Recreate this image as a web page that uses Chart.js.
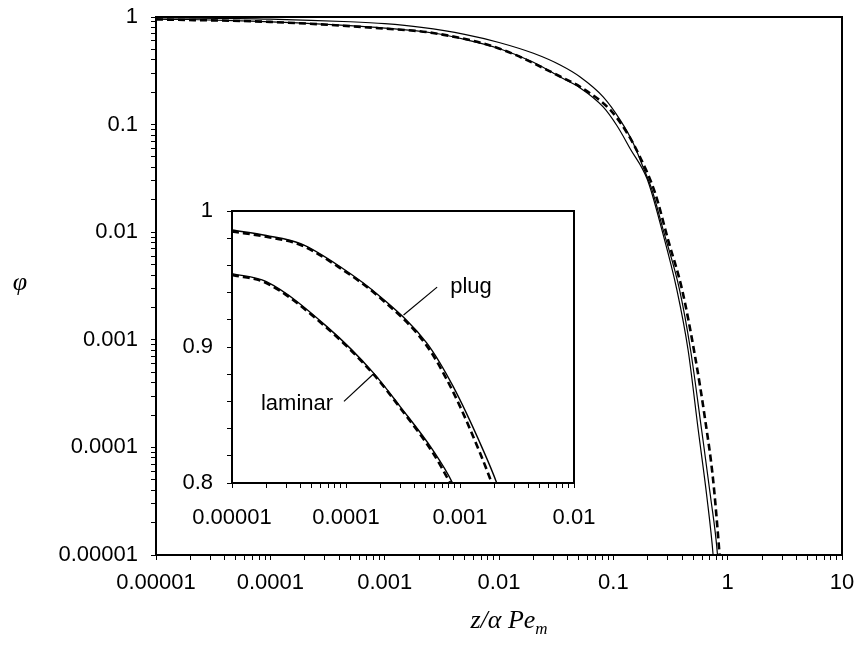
<!DOCTYPE html>
<html>
<head>
<meta charset="utf-8">
<script src="https://cdn.jsdelivr.net/npm/chart.js@4.4.0/dist/chart.umd.min.js"></script>
<style>
  body { margin: 0; background: #fff; }
  #wrap { position: relative; width: 861px; height: 665px; }
  #main { position: absolute; left: 0; top: 0; }
  #inset { position: absolute; left: 180px; top: 198px; }
</style>
</head>
<body>
<div id="wrap">
  <canvas id="main" width="861" height="665"></canvas>
  <canvas id="inset" width="420" height="337"></canvas>
</div>
<script>
// ---- main plot (log-log) ----
const main_x_ticks = [0.00001, 0.0001, 0.001, 0.01, 0.1, 1, 10]
const main_x_labels = ['0.00001', '0.0001', '0.001', '0.01', '0.1', '1', '10']
const main_y_ticks = [0.00001, 0.0001, 0.001, 0.01, 0.1, 1]
const main_y_labels = ['0.00001', '0.0001', '0.001', '0.01', '0.1', '1']

const plug_x = [0.00001, 0.0001, 0.0005, 0.001, 0.0021, 0.005, 0.01, 0.02, 0.0343, 0.0513, 0.0815, 0.115, 0.149, 0.182, 0.218, 0.273, 0.38, 0.474, 0.592, 0.709, 0.815, 0.84]
const plug_y = [0.986, 0.957, 0.903, 0.866, 0.80, 0.69, 0.58, 0.46, 0.358, 0.277, 0.181, 0.110, 0.0675, 0.0403, 0.0247, 0.0105, 0.0029, 0.0008, 0.000145, 0.0000346, 0.00001, 0.000006]

const laminar_x = [0.00001, 0.00002, 0.000068, 0.000174, 0.0003, 0.00058, 0.00085, 0.00265, 0.005, 0.01, 0.02, 0.0343, 0.0513, 0.0815, 0.108, 0.14, 0.198, 0.266, 0.36, 0.451, 0.553, 0.658, 0.746, 0.77]
const laminar_y = [0.954, 0.948, 0.915, 0.881, 0.856, 0.824, 0.80, 0.71, 0.62, 0.51, 0.38, 0.277, 0.219, 0.146, 0.097, 0.06, 0.031, 0.0105, 0.0029, 0.0008, 0.000145, 0.0000346, 0.00001, 0.000006]

const approx_x = [0.00001, 0.0001, 0.001, 0.00265, 0.01, 0.0343, 0.0513, 0.094, 0.132, 0.171, 0.232, 0.301, 0.40, 0.52, 0.636, 0.746, 0.85, 0.88]
const approx_y = [0.95, 0.90, 0.78, 0.71, 0.51, 0.28, 0.224, 0.137, 0.0836, 0.05, 0.0231, 0.0085, 0.0029, 0.00069, 0.00018, 0.00005, 0.00001, 0.000006]

// ---- inset (log x, linear y) ----
const inset_x_ticks = [0.00001, 0.0001, 0.001, 0.01]
const inset_x_labels = ['0.00001', '0.0001', '0.001', '0.01']
const inset_y_ticks = [0.8, 0.9, 1]
const inset_y_labels = ['0.8', '0.9', '1']

const inset_plug_x = [0.00001, 0.00002, 0.00004, 0.000089, 0.0002, 0.00051, 0.00087, 0.0016, 0.0021, 0.0023]
const inset_plug_y = [0.986, 0.982, 0.976, 0.959, 0.937, 0.903, 0.871, 0.824, 0.80, 0.79]
const inset_plug_dash_x = [0.00001, 0.00002, 0.00004, 0.000089, 0.0002, 0.00051, 0.00087, 0.0015, 0.0019, 0.0021]
const inset_plug_dash_y = [0.985, 0.981, 0.975, 0.958, 0.936, 0.901, 0.867, 0.822, 0.80, 0.79]

const inset_lam_x = [0.00001, 0.00002, 0.000068, 0.000174, 0.0003, 0.00058, 0.00086, 0.0009]
const inset_lam_y = [0.954, 0.948, 0.915, 0.881, 0.856, 0.824, 0.80, 0.796]
const inset_lam_dash_x = [0.00001, 0.00002, 0.000068, 0.000174, 0.0003, 0.00058, 0.00082, 0.00087]
const inset_lam_dash_y = [0.953, 0.947, 0.914, 0.880, 0.855, 0.822, 0.80, 0.796]

// curve labels with their leader lines
const note_text = ['plug', 'laminar']
const note_x = [0.00082, 0.000077]
const note_y = [0.944, 0.858]
const note_align = ['left', 'right']
const plug_lead_x = [0.00032, 0.00063]
const plug_lead_y = [0.9235, 0.944]
const lam_lead_x = [0.000096, 0.000173]
const lam_lead_y = [0.860, 0.880]

const tick_font = { family: '"Liberation Sans", Arial, sans-serif', size: 22 }

function zip(xs, ys){
  return xs.map((x, i) => ({ x: x, y: ys[i] }))
}

function log_minor(majors){
  const out = []
  for (let i = 0; i < majors.length - 1; i++){
    for (let k = 1; k < 10; k++) out.push(parseFloat((majors[i] * k).toPrecision(6)))
  }
  out.push(majors[majors.length - 1])
  return out
}

function lin_minor(majors, step){
  const out = []
  const n = Math.round((majors[majors.length - 1] - majors[0]) / step)
  for (let i = 0; i <= n; i++) out.push(parseFloat((majors[0] + i * step).toFixed(6)))
  return out
}

function label_for(v, ticks, labels){
  const i = ticks.findIndex(t => Math.abs(t - v) <= Math.abs(t) * 1e-6)
  return i >= 0 ? labels[i] : ''
}

// fixed box size, and no label overflow pushing the plot area around
function fixed_box(size, horizontal){
  return s => {
    if (horizontal) s.height = size
    else s.width = size
    s.paddingTop = 0
    s.paddingBottom = 0
    s.paddingLeft = 0
    s.paddingRight = 0
  }
}

const frame = {
  id: 'frame',
  afterDraw(chart){
    const a = chart.chartArea
    const ctx = chart.ctx
    ctx.save()
    ctx.strokeStyle = '#000'
    ctx.lineWidth = 2
    ctx.strokeRect(a.left, a.top, a.right - a.left, a.bottom - a.top)
    ctx.restore()
  }
}

const titles = {
  id: 'titles',
  afterDraw(chart){
    const ctx = chart.ctx
    ctx.save()
    ctx.fillStyle = '#000'
    ctx.textBaseline = 'alphabetic'
    ctx.font = 'italic 26px "Liberation Serif", serif'
    ctx.textAlign = 'center'
    ctx.fillText('φ', 20, 290)
    // x title with subscript
    const main = 'z/α Pe'
    ctx.font = 'italic 26px "Liberation Serif", serif'
    const w1 = ctx.measureText(main).width
    ctx.font = 'italic 17px "Liberation Serif", serif'
    const w2 = ctx.measureText('m').width
    const x0 = 509 - (w1 + w2) / 2
    ctx.textAlign = 'left'
    ctx.font = 'italic 26px "Liberation Serif", serif'
    ctx.fillText(main, x0, 628)
    ctx.font = 'italic 17px "Liberation Serif", serif'
    ctx.fillText('m', x0 + w1, 634)
    ctx.restore()
  }
}

const notes = {
  id: 'notes',
  afterDraw(chart){
    const ctx = chart.ctx
    const xs = chart.scales.x, ys = chart.scales.y
    ctx.save()
    ctx.fillStyle = '#000'
    ctx.font = '22px "Liberation Sans", Arial, sans-serif'
    ctx.textBaseline = 'middle'
    note_text.forEach((t, i) => {
      ctx.textAlign = note_align[i]
      ctx.fillText(t, xs.getPixelForValue(note_x[i]), ys.getPixelForValue(note_y[i]))
    })
    ctx.restore()
  }
}

const white_bg = {
  id: 'white_bg',
  beforeDraw(chart){
    const ctx = chart.ctx
    ctx.save()
    ctx.fillStyle = '#fff'
    ctx.fillRect(0, 0, chart.width, chart.height)
    ctx.restore()
  }
}

function solid(data, width){
  return { data: data, borderColor: '#000', borderWidth: width, pointRadius: 0, fill: false, cubicInterpolationMode: 'monotone' }
}
function dashed(data, width){
  return { data: data, borderColor: '#000', borderWidth: width, borderDash: [7, 4], pointRadius: 0, fill: false, cubicInterpolationMode: 'monotone' }
}

function axis_common(){
  return {
    ticks: { autoSkip: false, maxRotation: 0, minRotation: 0, color: '#000', font: tick_font },
    grid: { drawOnChartArea: false, drawTicks: true, tickLength: 5, color: '#000', lineWidth: 1 },
    border: { display: true, color: '#000', width: 2 },
  }
}

function make_main(){
  const xa = axis_common(), ya = axis_common()
  xa.ticks.padding = 10
  xa.ticks.callback = v => label_for(v, main_x_ticks, main_x_labels)
  ya.ticks.padding = 13
  ya.ticks.callback = v => label_for(v, main_y_ticks, main_y_labels)
  return new Chart(document.getElementById('main'), {
    type: 'line',
    data: {
      datasets: [
        solid(zip(plug_x, plug_y), 1.2),
        solid(zip(laminar_x, laminar_y), 1.2),
        dashed(zip(approx_x, approx_y), 2.6),
      ]
    },
    options: {
      responsive: false,
      animation: false,
      devicePixelRatio: 1,
      layout: { padding: { left: 0, top: 17, right: 19, bottom: 0 } },
      plugins: { legend: { display: false }, tooltip: { enabled: false } },
      scales: {
        x: Object.assign(xa, {
          type: 'logarithmic', min: 0.00001, max: 10,
          afterBuildTicks: s => { s.ticks = log_minor(main_x_ticks).map(v => ({ value: v })) },
          afterFit: fixed_box(110, true),
        }),
        y: Object.assign(ya, {
          type: 'logarithmic', min: 0.00001, max: 1,
          afterBuildTicks: s => { s.ticks = log_minor(main_y_ticks).map(v => ({ value: v })) },
          afterFit: fixed_box(156, false),
        }),
      }
    },
    plugins: [frame, titles]
  })
}

function make_inset(){
  const xa = axis_common(), ya = axis_common()
  xa.ticks.padding = 17
  xa.ticks.callback = v => label_for(v, inset_x_ticks, inset_x_labels)
  ya.ticks.padding = 14
  ya.ticks.callback = v => label_for(v, inset_y_ticks, inset_y_labels)
  const lead = d => ({ data: d, borderColor: '#000', borderWidth: 1.2, pointRadius: 0, fill: false })
  return new Chart(document.getElementById('inset'), {
    type: 'line',
    data: {
      datasets: [
        solid(zip(inset_plug_x, inset_plug_y), 1.4),
        dashed(zip(inset_plug_dash_x, inset_plug_dash_y), 2.6),
        solid(zip(inset_lam_x, inset_lam_y), 1.4),
        dashed(zip(inset_lam_dash_x, inset_lam_dash_y), 2.6),
        lead(zip(plug_lead_x, plug_lead_y)),
        lead(zip(lam_lead_x, lam_lead_y)),
      ]
    },
    options: {
      responsive: false,
      animation: false,
      devicePixelRatio: 1,
      layout: { padding: { left: 0, top: 13, right: 26, bottom: 0 } },
      plugins: { legend: { display: false }, tooltip: { enabled: false } },
      scales: {
        x: Object.assign(xa, {
          type: 'logarithmic', min: 0.00001, max: 0.01,
          afterBuildTicks: s => { s.ticks = log_minor(inset_x_ticks).map(v => ({ value: v })) },
          afterFit: fixed_box(52, true),
        }),
        y: Object.assign(ya, {
          type: 'linear', min: 0.8, max: 1,
          afterBuildTicks: s => { s.ticks = lin_minor(inset_y_ticks, 0.02).map(v => ({ value: v })) },
          afterFit: fixed_box(52, false),
        }),
      }
    },
    plugins: [white_bg, frame, notes]
  })
}

let main_chart = make_main()
let inset_chart = make_inset()
</script>
</body>
</html>
